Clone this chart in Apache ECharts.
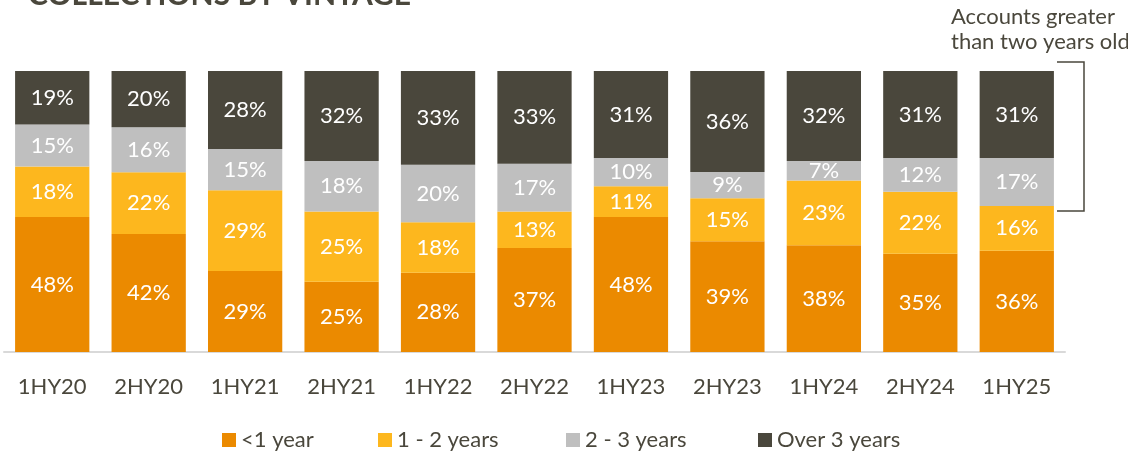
<!DOCTYPE html>
<html>
<head>
<meta charset="utf-8">
<script src="https://cdn.jsdelivr.net/npm/echarts@6/dist/echarts.min.js"></script>
<style>
html,body{margin:0;padding:0;background:#fff;}
#chart{width:1128px;height:454px;}
</style>
</head>
<body>
<div id="chart"></div>
<script>
const categories = ['1HY20','2HY20','1HY21','2HY21','1HY22','2HY22','1HY23','2HY23','1HY24','2HY24','1HY25'];
const lessThan1Year = [48, 42, 28.8, 25, 28.2, 37, 48, 39.4, 38, 35, 36];
const oneToTwoYears = [18, 22, 28.8, 25, 18.0, 13, 11, 15.3, 23, 22, 16];
const twoToThreeYears = [15, 16, 14.6, 18, 20.4, 17, 10, 9.4, 7, 12, 17];
const over3Years = [19, 20, 27.8, 32, 33.4, 33, 31, 35.9, 32, 31, 31];
const seriesNames = ['<1 year', '1 - 2 years', '2 - 3 years', 'Over 3 years'];
const seriesColors = ['#EB8A00', '#FDB71E', '#BFBFBF', '#4A473C'];
const seriesData = [lessThan1Year, oneToTwoYears, twoToThreeYears, over3Years];
const legendLefts = [217, 373, 561, 753];

const textColor = '#4A473C';
const fontFamily = 'Lato, "Noto Sans", sans-serif';

const chart = echarts.init(document.getElementById('chart'), null, {renderer: 'canvas'});
chart.setOption({
  animation: false,
  backgroundColor: '#ffffff',
  textStyle: {fontFamily: fontFamily},
  grid: {left: 4, right: 63, top: 71, bottom: 102, containLabel: false},
  legend: seriesNames.map((name, i) => ({
    left: legendLefts[i], top: 424,
    icon: 'rect', itemWidth: 14, itemHeight: 14,
    textStyle: {color: textColor, fontSize: 22, fontFamily: fontFamily},
    data: [name]
  })),
  xAxis: {
    type: 'category',
    data: categories,
    axisLine: {show: true, lineStyle: {color: '#D9D9D9', width: 2}},
    axisTick: {show: false},
    axisLabel: {color: textColor, fontSize: 22, fontFamily: fontFamily, margin: 24}
  },
  yAxis: {
    type: 'value', min: 0, max: 100, show: false,
    splitLine: {show: false}
  },
  series: seriesNames.map((name, i) => ({
    name: name,
    type: 'bar',
    stack: 'total',
    barWidth: '77%',
    data: seriesData[i],
    itemStyle: {color: seriesColors[i]},
    label: {
      show: true, position: 'inside', color: '#ffffff',
      fontSize: 22, fontFamily: fontFamily,
      formatter: p => Math.round(p.value) + '%'
    }
  })),
  graphic: [
    {
      type: 'text', left: 28, top: -20,
      style: {text: 'COLLECTIONS BY VINTAGE', fill: textColor, font: 'bold 30px Lato, sans-serif'}
    },
    {
      type: 'text', left: 951, top: 4,
      style: {text: 'Accounts greater\nthan two years old', fill: textColor, font: '22px ' + fontFamily, lineHeight: 25}
    },
    {
      type: 'polyline',
      shape: {points: [[1057, 62], [1084, 62], [1084, 211], [1057, 211]]},
      style: {stroke: textColor, lineWidth: 1.5, fill: null}
    }
  ]
});
</script>
</body>
</html>
